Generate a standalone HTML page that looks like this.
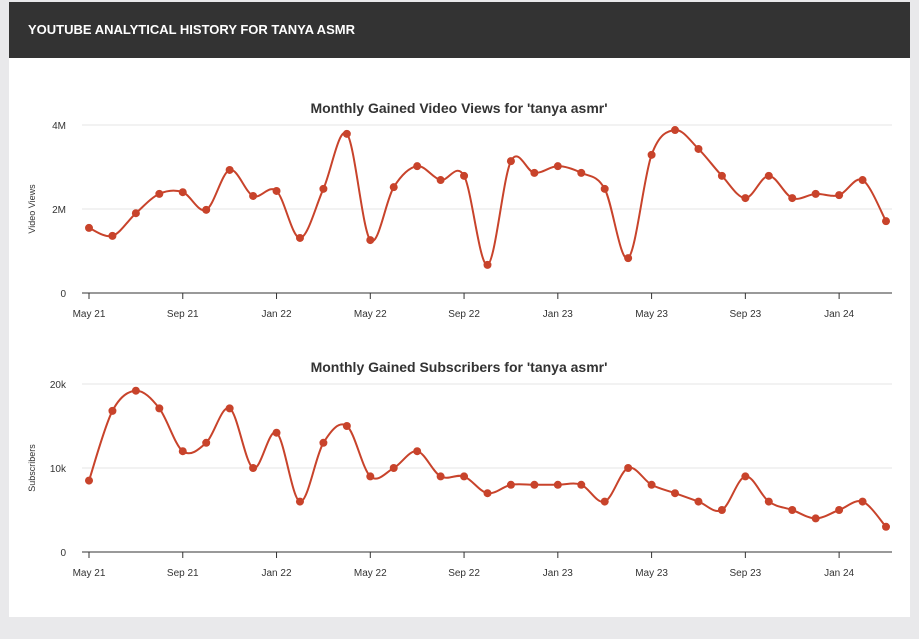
<!DOCTYPE html>
<html><head><meta charset="utf-8"><style>
body{margin:0;width:919px;height:639px;background:#e9e9eb;font-family:"Liberation Sans",sans-serif;overflow:hidden;position:relative}
#hdr{position:absolute;left:9px;top:2px;width:901px;height:56px;background:#333;color:#fff;font-weight:bold;font-size:13px;line-height:56px;padding-left:19px;box-sizing:border-box}
#panel{position:absolute;left:9px;top:58px;width:901px;height:559px;background:#fff}
svg{position:absolute;left:0;top:0}
</style></head><body>
<div id="hdr">YOUTUBE ANALYTICAL HISTORY FOR TANYA ASMR</div>
<div id="panel"></div>
<svg id="s" width="919" height="639"></svg>
<script>
const xLabels=["May 21","Sep 21","Jan 22","May 22","Sep 22","Jan 23","May 23","Sep 23","Jan 24"];
const viewValues=[1.55,1.36,1.9,2.36,2.4,1.98,2.93,2.31,2.43,1.31,2.48,3.79,1.26,2.52,3.02,2.69,2.79,0.67,3.14,2.86,3.02,2.86,2.48,0.83,3.29,3.88,3.43,2.79,2.26,2.79,2.26,2.36,2.33,2.69,1.71];
const subValues=[8.5,16.8,19.2,17.1,12,13,17.1,10,14.2,6,13,15,9,10,12,9,9,7,8,8,8,8,6,10,8,7,6,5,9,6,5,4,5,6,3];
const viewTicks=[0,2,4], viewTickLabels=["0","2M","4M"];
const subTicks=[0,10,20], subTickLabels=["0","10k","20k"];
const NS="http://www.w3.org/2000/svg";
const s=document.getElementById('s');
function mk(t,a,txt){const e=document.createElementNS(NS,t);for(const k in a)e.setAttribute(k,a[k]);if(txt!=null)e.textContent=txt;s.appendChild(e);return e;}
const x=i=>89+i*(886-89)/34;
function chart(vals,ticks,tlabels,y0,ppu,max,title,ytitle,pre){
  const y=v=>y0-v*ppu;
  let t=mk('text',{x:459,y:y0-193+13,'text-anchor':'middle','font-size':14,'font-weight':'bold',fill:'#333'},title);
  
  ticks.forEach((v,i)=>{
    if(v>0){let g=mk('line',{x1:82,x2:892,y1:y(v),y2:y(v),stroke:'#e6e6e6'});}
    let l=mk('text',{x:66,y:y(v)+4,'text-anchor':'end','font-size':10,fill:'#333'},tlabels[i]);
    
  });
  let a=mk('line',{x1:82,x2:892,y1:y0,y2:y0,stroke:'#333'});
  xLabels.forEach((lb,i)=>{
    const xx=x(i*4);
    let tk=mk('line',{x1:xx,x2:xx,y1:y0,y2:y0+6,stroke:'#333'});
    let l=mk('text',{x:xx,y:y0+24,'text-anchor':'middle','font-size':10,fill:'#333'},lb);
    
  });
  let yt=mk('text',{x:35,y:y0-84,'text-anchor':'middle','font-size':9,fill:'#333',transform:`rotate(-90 35 ${y0-84})`},ytitle);
  
  const P=vals.map((v,i)=>[x(i),y(v)]);
  let d=`M${P[0][0]},${P[0][1]}`;
  for(let i=0;i<P.length-1;i++){
    const p0=P[Math.max(0,i-1)],p1=P[i],p2=P[i+1],p3=P[Math.min(P.length-1,i+2)];
    const c1=[p1[0]+(p2[0]-p0[0])/6,p1[1]+(p2[1]-p0[1])/6],c2=[p2[0]-(p3[0]-p1[0])/6,p2[1]-(p3[1]-p1[1])/6];
    d+=`C${c1[0]},${c1[1]} ${c2[0]},${c2[1]} ${p2[0]},${p2[1]}`;
  }
  let ln=mk('path',{d,fill:'none',stroke:'#c8432b','stroke-width':2});
  P.forEach(p=>{let c=mk('circle',{cx:p[0],cy:p[1],r:4,fill:'#c8432b'});});
}
chart(viewValues,viewTicks,viewTickLabels,293,42,4,"Monthly Gained Video Views for 'tanya asmr'","Video Views","views");
chart(subValues,subTicks,subTickLabels,552,8.4,20,"Monthly Gained Subscribers for 'tanya asmr'","Subscribers","subs");
</script>
</body></html>
